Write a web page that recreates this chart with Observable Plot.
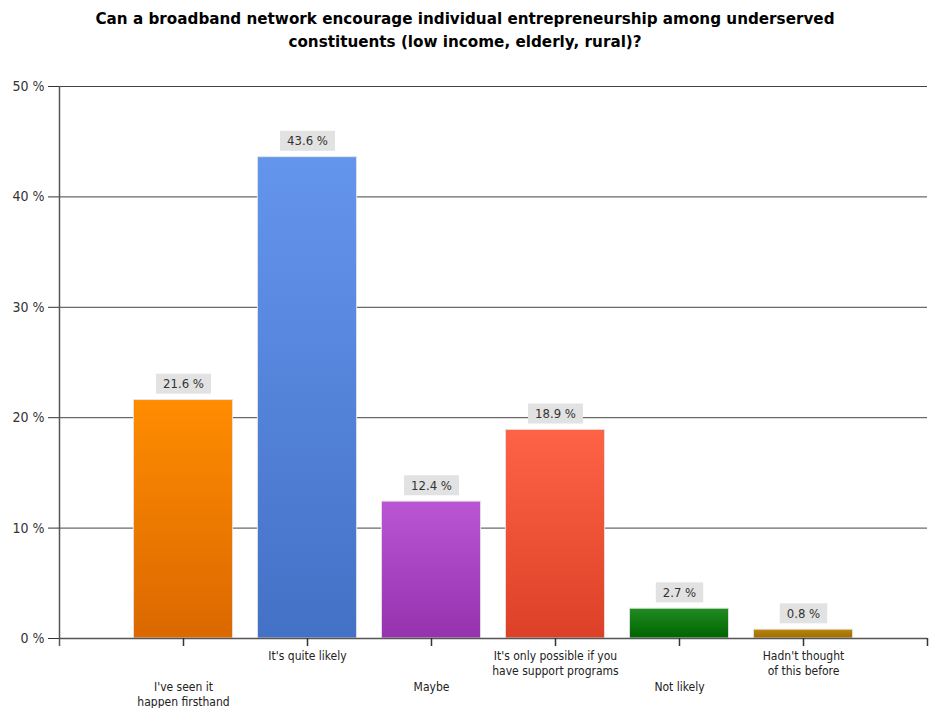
<!DOCTYPE html>
<html>
<head>
<meta charset="utf-8">
<script src="https://cdn.jsdelivr.net/npm/d3@7"></script>
<script src="https://cdn.jsdelivr.net/npm/@observablehq/plot@0.6"></script>
<style>
  body { margin: 0; background: #fff; }
  #wrap { position: relative; width: 930px; height: 708px; }
  #title { position: absolute; top: 8px; left: 0; width: 930px; text-align: center;
    font: bold 15.2px "DejaVu Sans", sans-serif; line-height: 23px; color: #000; }
</style>
</head>
<body>
<div id="wrap">
  <div id="title">Can a broadband network encourage individual entrepreneurship among underserved<br>constituents (low income, elderly, rural)?</div>
  <div id="chart"></div>
</div>
<script>
const categories = ["I've seen it\nhappen firsthand", "It's quite likely", "Maybe", "It's only possible if you\nhave support programs", "Not likely", "Hadn't thought\nof this before"];
const values = [21.6, 43.6, 12.4, 18.9, 2.7, 0.8];
const topColors = ["#ff8c00", "#6495ed", "#ba55d3", "#ff6347", "#228b22", "#b8860b"];
const bottomColors = ["#db6800", "#4371c6", "#9632ae", "#dc4026", "#006400", "#a06c00"];
const yTicks = [0, 10, 20, 30, 40, 50];

const data = categories.map((c, i) => ({cat: c, pos: i + 1, value: values[i], idx: i, low: i % 2 === 0}));

const font = '"DejaVu Sans Condensed", "DejaVu Sans", sans-serif';

const chart = Plot.plot({
  width: 930,
  height: 708,
  marginTop: 86,
  marginBottom: 70,
  marginLeft: 59,
  marginRight: 3,
  style: {fontFamily: font, fontSize: "14px", color: "#333", background: "#fff"},
  x: {domain: [0, 7], ticks: [], label: null, axis: null},
  y: {domain: [0, 50], ticks: yTicks, tickFormat: d => d + " %", tickSize: 11, tickPadding: 4, label: null},
  color: {type: "identity"},
  marks: [
    Plot.ruleY(yTicks.filter(d => d > 0), {stroke: "#444", strokeWidth: 1}),
    Plot.rectY(data, {x1: d => d.pos - 0.4, x2: d => d.pos + 0.4, y1: 0, y2: "value",
      fill: d => `url(#grad${d.idx})`, stroke: "#e4e4e4", strokeWidth: 1}),
    Plot.ruleY([0], {stroke: "#555", strokeWidth: 1.5}),
    Plot.ruleX([0], {stroke: "#555", strokeWidth: 1.5, insetBottom: -8}),
    Plot.ruleX([1, 2, 3, 4, 5, 6, 7], {y1: 0, y2: 0, insetBottom: -8, stroke: "#333", strokeWidth: 1.5}),
    Plot.text(data, {x: "pos", y: "value", text: d => d.value.toFixed(1) + " %", dy: -16,
      lineAnchor: "middle", fill: "#333", fontSize: 13}),
    Plot.text(data.filter(d => !d.low), {x: "pos", y: 0, text: "cat", lineAnchor: "top", dy: 12,
      fill: "#222", fontSize: 12, lineHeight: 1.17}),
    Plot.text(data.filter(d => d.low), {x: "pos", y: 0, text: "cat", lineAnchor: "top", dy: 43,
      fill: "#222", fontSize: 12, lineHeight: 1.17})
  ]
});
document.getElementById("chart").appendChild(chart);

const svg = d3.select(chart);
const defs = svg.insert("defs", ":first-child");
topColors.forEach((c, i) => {
  const g = defs.append("linearGradient").attr("id", "grad" + i)
    .attr("x1", 0).attr("y1", 0).attr("x2", 0).attr("y2", 1);
  g.append("stop").attr("offset", "0%").attr("stop-color", c);
  g.append("stop").attr("offset", "100%").attr("stop-color", bottomColors[i]);
});

// gray label backgrounds sized to each value label (first text mark group)
const valueGroup = chart.querySelector('g[aria-label="text"]');
if (valueGroup) {
  Array.from(valueGroup.querySelectorAll("text")).forEach(function(el) {
    const b = el.getBBox();
    const t = el.getAttribute("transform");
    const r = document.createElementNS("http://www.w3.org/2000/svg", "rect");
    r.setAttribute("x", b.x - 7);
    r.setAttribute("y", b.y + b.height / 2 - 10);
    r.setAttribute("width", b.width + 14);
    r.setAttribute("height", 20);
    r.setAttribute("fill", "#e2e2e2");
    r.setAttribute("stroke", "none");
    if (t) r.setAttribute("transform", t);
    el.parentNode.insertBefore(r, el);
  });
}
</script>
</body>
</html>
